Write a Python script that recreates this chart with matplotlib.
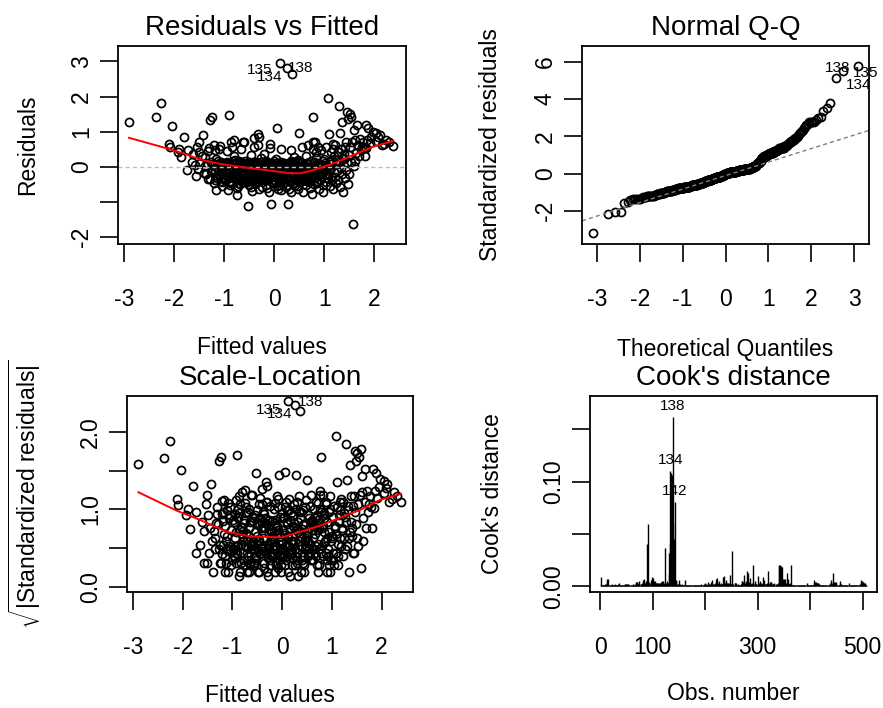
"""Diagnostic plots of a linear model (R plot.lm style), 2 x 2 panels."""
import statistics

import numpy as np
import matplotlib
matplotlib.use('Agg')
import matplotlib.pyplot as plt

plt.rcParams['font.family'] = ['Liberation Sans', 'DejaVu Sans']
plt.rcParams['mathtext.fontset'] = 'custom'
plt.rcParams['mathtext.rm'] = 'Liberation Sans'
plt.rcParams['mathtext.it'] = 'Liberation Sans:italic'
plt.rcParams['axes.unicode_minus'] = False

BASE = 16.5   # axis labels / tick labels
TITLE = 20
ID = 11       # point labels

# --- data -----------------------------------------------------------------
# fitted values and raw residuals, one line per band of fitted values
fitted = [
    -2.90, -2.37, -2.26, -2.04, -2.11, -2.09,
    -1.93, -1.86, -1.80, -1.73, -1.74, -1.65, -1.62, -1.90,
    -1.57, -1.54, -1.51, -1.50, -1.43, -1.41, -1.48, -1.45, -1.58, -1.52,
    -1.28, -1.24, -1.38, -1.35, -1.33, -1.31, -1.29, -1.27, -1.25, -1.22, -1.21, -1.36, -1.32, -1.26, -1.23, -1.39,
    -1.20, -1.16, -1.19, -1.18, -1.17, -1.15, -1.14, -1.13, -1.12, -1.11, -1.10, -1.09, -1.08, -1.07, -1.06, -1.05,
    -1.04, -1.03, -1.02, -1.01, -1.19, -1.14, -1.09, -1.04,
    -0.99, -0.98, -0.97, -0.96, -0.95, -0.94, -0.93, -0.92, -0.91, -0.90, -0.89, -0.88, -0.87, -0.86, -0.85, -0.84,
    -0.83, -0.82, -0.81, -0.97, -0.95, -0.93, -0.91, -0.89, -0.87, -0.85, -0.83, -0.81, -0.94, -0.88,
    -0.80, -0.79, -0.78, -0.77, -0.76, -0.75, -0.74, -0.73, -0.72, -0.71, -0.70, -0.69, -0.68, -0.67, -0.66, -0.65,
    -0.64, -0.63, -0.62, -0.61, -0.79, -0.77, -0.75, -0.73, -0.71, -0.69, -0.67, -0.65, -0.63, -0.61, -0.78, -0.74,
    -0.70, -0.66,
    -0.60, -0.59, -0.58, -0.57, -0.56, -0.55, -0.54, -0.53, -0.52, -0.51, -0.50, -0.49, -0.48, -0.47, -0.46, -0.45,
    -0.44, -0.43, -0.42, -0.41, -0.59, -0.57, -0.55, -0.53, -0.51, -0.49, -0.47, -0.45, -0.43, -0.41, -0.58, -0.54,
    -0.50, -0.46, -0.42, -0.56,
    -0.40, -0.39, -0.38, -0.37, -0.36, -0.35, -0.34, -0.33, -0.32, -0.31, -0.30, -0.29, -0.28, -0.27, -0.26, -0.25,
    -0.24, -0.23, -0.22, -0.21, -0.39, -0.37, -0.35, -0.33, -0.31, -0.29, -0.27, -0.25, -0.23, -0.21, -0.38, -0.34,
    -0.30, -0.26, -0.22, -0.36, -0.28, -0.32,
    -0.20, -0.19, -0.18, -0.17, -0.16, -0.15, -0.14, -0.13, -0.12, -0.11, -0.10, -0.09, -0.08, -0.07, -0.06, -0.05,
    -0.04, -0.03, -0.02, -0.01, -0.19, -0.17, -0.15, -0.13, -0.11, -0.09, -0.07, -0.05, -0.03, -0.01, -0.18, -0.14,
    -0.10, -0.06, -0.02, -0.16, -0.08, -0.12,
    0.00, 0.01, 0.02, 0.03, 0.04, 0.05, 0.06, 0.07, 0.08, 0.09, 0.10, 0.11, 0.12, 0.13, 0.14, 0.15,
    0.16, 0.17, 0.18, 0.19, 0.01, 0.03, 0.05, 0.07, 0.09, 0.11, 0.13, 0.15, 0.17, 0.19, 0.02, 0.06,
    0.10, 0.14, 0.18, 0.11,
    0.20, 0.21, 0.22, 0.23, 0.24, 0.25, 0.26, 0.27, 0.28, 0.29, 0.30, 0.31, 0.32, 0.33, 0.34, 0.35,
    0.36, 0.37, 0.38, 0.39, 0.21, 0.23, 0.25, 0.27, 0.29, 0.31, 0.33, 0.35, 0.37, 0.39, 0.22, 0.26,
    0.30, 0.34,
    0.40, 0.41, 0.42, 0.43, 0.44, 0.45, 0.46, 0.47, 0.48, 0.49, 0.50, 0.51, 0.52, 0.53, 0.54, 0.55,
    0.56, 0.57, 0.58, 0.59, 0.41, 0.43, 0.45, 0.47, 0.49, 0.51, 0.53, 0.55, 0.57, 0.59, 0.44, 0.52,
    0.60, 0.61, 0.62, 0.63, 0.64, 0.65, 0.66, 0.67, 0.68, 0.69, 0.70, 0.71, 0.72, 0.73, 0.74, 0.75,
    0.76, 0.77, 0.78, 0.79, 0.61, 0.63, 0.65, 0.67, 0.69, 0.71, 0.73, 0.75, 0.77, 0.79,
    0.80, 0.81, 0.82, 0.83, 0.84, 0.85, 0.86, 0.87, 0.88, 0.89, 0.90, 0.91, 0.92, 0.93, 0.94, 0.95,
    0.96, 0.97, 0.98, 0.99, 0.82, 0.85, 0.88, 0.91, 0.94, 0.97, 0.84, 0.90,
    1.00, 1.01, 1.02, 1.03, 1.04, 1.05, 1.06, 1.07, 1.08, 1.09, 1.10, 1.11, 1.12, 1.13, 1.14, 1.15,
    1.16, 1.17, 1.18, 1.19, 1.03, 1.08, 1.13, 1.17,
    1.20, 1.21, 1.22, 1.23, 1.24, 1.25, 1.26, 1.27, 1.28, 1.29, 1.30, 1.31, 1.32, 1.33, 1.34, 1.35,
    1.36, 1.37, 1.38, 1.39,
    1.40, 1.41, 1.42, 1.43, 1.44, 1.45, 1.46, 1.47, 1.48, 1.49, 1.50, 1.51, 1.52, 1.53, 1.54, 1.56,
    1.58, 1.59,
    1.61, 1.63, 1.60, 1.67, 1.69, 1.71, 1.73, 1.75, 1.77, 1.79, 1.62, 1.66,
    1.83, 1.88, 1.97, 1.84, 1.91, 1.81, 1.94, 1.86,
    2.04, 2.11, 2.04, 2.15, 2.08,
    2.24, 2.38, 2.30, 2.20,
]
resid = [
    1.28, 1.42, 1.81, 1.16, 0.66, 0.57,
    0.44, 0.29, 0.86, 0.48, -0.10, 0.15, 0.36, 0.52,
    -0.27, 0.58, 0.72, 0.44, 0.91, -0.18, 0.10, 0.30, 0.05, -0.05,
    1.35, 1.43, 0.27, 0.12, -0.35, 0.55, -0.34, -0.12, 0.05, 0.09, -0.45, -0.20, 0.45, 0.15, -0.05, 0.02,
    0.63, -0.65, -0.37, -0.15, 0.24, 0.08, -0.32, 0.18, -0.05, 0.51, -0.22, 0.11, 0.02, -0.40, 0.14, -0.44,
    -0.12, 0.04, -0.28, 0.06, 0.48, -0.02, 0.60, -0.55,
    0.12, -0.38, -0.36, -0.08, 0.45, -0.20, -0.65, 0.05, 1.48, 0.10, -0.15, -0.42, -0.46, 0.01, 0.58, -0.28,
    0.16, -0.05, 0.31, -0.12, 0.07, -0.26, 0.09, -0.52, 0.70, -0.02, -0.31, -0.24, 0.14, -0.40,
    0.77, -0.18, 0.10, -0.35, -0.38, -0.80, 0.04, -0.25, -0.46, -0.10, 0.18, -0.48, 0.08, -0.30, 0.52, -0.04,
    0.05, -0.14, 0.72, -0.42, -0.27, -0.06, 0.14, -0.55, 0.02, 0.13, -0.22, -0.36, 0.12, -0.16, 0.21, -0.60,
    0.06, -0.02,
    0.72, -0.12, -0.37, -0.40, 0.05, -0.26, 0.07, -1.11, -0.06, 0.15, -0.34, 0.11, -0.18, 0.02, -0.58, -0.41,
    -0.09, 0.10, -0.30, 0.58, -0.15, 0.12, -0.44, 0.08, -0.22, -0.02, 0.34, -0.68, 0.13, -0.36, 0.18, -0.05,
    -0.50, -0.19, -0.13, 0.04,
    0.81, -0.20, 0.14, -0.45, 0.03, -0.30, -0.35, -0.10, 0.93, -0.62, 0.86, -0.16, 0.07, -0.38, 0.25, -0.04,
    0.06, -0.26, -0.08, -0.17, -0.48, 0.11, -0.14, 0.10, -0.34, 0.01, 0.13, -0.56, 0.09, -0.20, -0.31, -0.41,
    -0.02, 0.15, -0.28, 0.05, -0.12, 0.62,
    0.37, -0.22, 0.08, -0.52, 0.18, -0.35, -0.02, -0.33, -0.14, -0.70, 0.10, -0.28, 0.55, -0.06, -1.06, 0.09,
    -0.42, 0.02, -0.18, -0.13, -0.10, 0.14, -0.60, 0.05, -0.32, 0.03, -0.24, 0.12, -0.08, -0.46, 0.12, -0.38,
    -0.31, -0.16, 0.04, -0.26, 0.66, -0.04,
    0.16, -0.40, -0.08, 0.23, -0.25, -0.55, 1.12, -0.14, 0.06, -0.34, -0.36, 2.95, -0.20, 0.50, -0.66, -0.01,
    -0.30, 0.12, -0.46, 0.07, -0.12, -0.42, -0.04, -0.62, 0.08, -0.22, 0.09, -0.38, -0.10, 0.04, -0.28, 0.11,
    -0.50, 0.14, -0.18, 0.02,
    0.10, -0.44, -0.16, -0.35, -0.58, 0.04, 2.81, -0.28, -1.06, -0.10, 0.05, -0.36, 0.01, -0.70, 0.48, -0.22,
    2.63, -0.48, 0.14, -0.06, -0.32, -0.31, -0.12, -0.52, 0.06, -0.26, 0.18, -0.40, -0.02, 0.29, -0.18, -0.08,
    -0.62, 0.12,
    -0.20, -0.33, -0.50, 0.02, -0.34, 0.18, -0.12, -0.64, 0.20, -0.26, 0.98, -0.08, -0.44, 0.12, -0.30, 0.56,
    -0.16, -0.72, 0.06, -0.38, 0.05, -0.04, -0.54, 0.14, -0.22, 0.10, -0.40, -0.10, -0.36, -0.28, 0.08, -0.18,
    0.06, -0.36, -0.06, 0.32, -0.52, 0.10, -0.24, 0.62, -0.14, -0.44, -0.33, -0.02, -0.60, 0.16, -0.30, 0.04,
    -0.78, 0.52, 1.43, -0.10, -0.20, 0.12, -0.40, 0.08, -0.04, -0.38, -0.28, -0.12, 0.72, -0.48,
    0.14, -0.30, 0.72, -0.08, 0.26, -0.46, -0.17, -0.18, 0.58, -0.62, 0.06, -0.36, 0.08, -0.12, 0.48, -0.26,
    0.02, -0.52, 0.18, -0.06, -0.32, -0.40, 0.10, -0.20, 0.04, -0.70, 0.44, 0.02,
    0.22, -0.20, 0.10, -0.42, 0.56, 0.04, -0.30, -0.32, 1.95, -0.10, 0.94, -0.54, 0.16, -0.04, 0.44, -0.36,
    0.20, -0.62, 0.66, -0.14, 0.06, -0.24, 0.08, 0.50,
    0.30, -0.28, 0.62, 0.08, -0.46, 0.20, -0.12, 0.42, -0.36, 1.73, 0.14, 0.98, -0.56, 0.50, -0.02, -0.20,
    1.27, 0.26, -0.70, 0.36,
    0.22, -0.30, 0.56, -0.10, 0.70, 0.10, 1.57, -0.48, 1.36, 0.34, -0.20, 1.52, 0.58, 0.14, 1.43, 0.72,
    -1.62, 0.03,
    0.77, 0.40, 1.05, 0.62, 0.30, 0.79, 0.48, 0.58, 0.70, 0.55, 0.18, 1.18,
    1.19, 1.10, 1.00, 0.53, 0.67, 0.30, 0.85, 0.78,
    0.96, 0.91, 0.75, 0.62, 0.84,
    0.77, 0.61, 0.70, 0.66,
]
sigma = 0.513  # residual standard error of the model

# labels of the three most extreme observations
id_labels = ['135', '138', '134']
qq_labels = ['138', '135', '134']

# red smoother, Residuals vs Fitted
smooth1_x = [-2.90, -2.12, -1.80, -1.49, -1.09, -0.56, -0.16, 0.28, 0.51, 0.78, 1.18, 1.58, 1.98, 2.38]
smooth1_y = [0.83, 0.52, 0.38, 0.22, 0.09, -0.02, -0.09, -0.17, -0.18, -0.09, 0.10, 0.34, 0.58, 0.74]
# red smoother, Scale-Location
smooth3_x = [-2.89, -2.11, -1.64, -1.11, -0.64, 0.00, 0.36, 0.76, 1.16, 1.56, 1.96, 2.39]
smooth3_y = [1.22, 0.98, 0.86, 0.71, 0.65, 0.64, 0.71, 0.79, 0.89, 0.99, 1.12, 1.20]

# Cook's distance for obs. 1..507, in units of 0.001
cook_milli = [
    9, 2, 1, 1, 1, 1, 1, 1, 2, 1, 1, 2, 5, 7, 7, 2, 1, 1, 1, 1,
    1, 1, 2, 1, 1, 1, 1, 1, 2, 1, 1, 1, 1, 1, 2, 3, 1, 1, 1, 1,
    1, 1, 1, 1, 1, 1, 2, 2, 1, 2, 2, 1, 2, 2, 1, 1, 1, 1, 1, 1,
    1, 1, 2, 1, 1, 1, 2, 4, 3, 4, 4, 2, 2, 5, 2, 1, 2, 2, 3, 2,
    6, 2, 3, 7, 2, 3, 4, 5, 40, 3, 2, 60, 4, 3, 2, 3, 6, 4, 9, 8,
    3, 5, 4, 4, 5, 3, 2, 3, 3, 2, 3, 3, 2, 2, 3, 4, 5, 4, 5, 2,
    2, 3, 2, 37, 2, 3, 5, 2, 3, 3, 32, 12, 40, 110, 108, 106, 100, 162, 60, 45,
    30, 81, 6, 5, 6, 2, 1, 1, 2, 1, 6, 2, 1, 1, 1, 2, 1, 1, 1, 1,
    6, 1, 1, 1, 1, 1, 1, 1, 1, 1, 1, 1, 1, 1, 1, 1, 1, 1, 1, 1,
    1, 1, 1, 1, 1, 1, 1, 1, 1, 1, 1, 1, 2, 1, 1, 1, 2, 1, 3, 1,
    1, 2, 1, 1, 2, 4, 2, 1, 2, 1, 4, 3, 2, 6, 2, 1, 2, 3, 2, 7,
    2, 2, 8, 3, 2, 2, 5, 2, 1, 2, 3, 2, 2, 9, 4, 10, 3, 2, 4, 6,
    3, 2, 3, 2, 2, 3, 11, 3, 2, 2, 2, 34, 2, 1, 1, 3, 3, 2, 3, 1,
    1, 1, 2, 1, 1, 1, 1, 2, 2, 5, 5, 4, 2, 11, 3, 2, 3, 5, 15, 3,
    3, 13, 4, 2, 8, 3, 2, 2, 3, 2, 20, 3, 2, 2, 5, 2, 2, 1, 1, 2,
    10, 2, 3, 5, 2, 2, 3, 2, 2, 3, 9, 2, 6, 2, 2, 2, 3, 2, 15, 3,
    2, 2, 4, 3, 4, 4, 2, 1, 2, 2, 3, 2, 1, 1, 2, 2, 1, 2, 3, 20,
    19, 20, 18, 18, 19, 18, 3, 3, 7, 6, 7, 7, 2, 3, 3, 13, 3, 7, 2, 2,
    2, 3, 20, 2, 1, 1, 1, 1, 1, 1, 1, 1, 1, 1, 1, 1, 1, 1, 1, 1,
    1, 1, 1, 1, 1, 1, 1, 1, 1, 1, 1, 1, 3, 1, 1, 1, 1, 1, 1, 1,
    1, 1, 1, 1, 1, 1, 3, 6, 4, 3, 3, 4, 3, 3, 3, 2, 2, 1, 1, 1,
    1, 1, 1, 1, 1, 1, 1, 1, 1, 1, 1, 1, 1, 1, 1, 1, 2, 3, 6, 2,
    2, 3, 2, 13, 2, 4, 3, 4, 2, 4, 1, 1, 1, 1, 1, 2, 5, 2, 1, 1,
    1, 1, 1, 1, 1, 1, 1, 1, 1, 1, 1, 1, 3, 1, 1, 1, 1, 1, 1, 1,
    1, 1, 1, 1, 1, 1, 1, 1, 1, 1, 1, 1, 1, 1, 2, 6, 4, 5, 3, 4,
    4, 2, 3, 2, 3, 1, 1,
]
cook_ids = [138, 134, 142]

# --- derived quantities ------------------------------------------------------
fitted = np.array(fitted)
resid = np.array(resid)
std_res = resid / sigma
sqrt_abs = np.sqrt(np.abs(std_res))

n = len(std_res)
nd = statistics.NormalDist()
theo = np.array([nd.inv_cdf((i - 0.5) / n) for i in range(1, n + 1)])
order = np.argsort(std_res)
qq_y = std_res[order]
q25, q75 = np.quantile(std_res, [0.25, 0.75])
qq_slope = (q75 - q25) / (nd.inv_cdf(0.75) - nd.inv_cdf(0.25))
qq_int = q25 - qq_slope * nd.inv_cdf(0.25)

cook = np.array(cook_milli) / 1000.0
obs = np.arange(1, len(cook) + 1)

top3 = np.argsort(-np.abs(resid))[:3]

# --- figure -------------------------------------------------------------------
W, H = 883, 708
fig = plt.figure(figsize=(W / 100, H / 100), dpi=100)


def add_panel(left, top, right, bottom):
    ax = fig.add_axes([left / W, 1 - bottom / H, (right - left) / W, (bottom - top) / H])
    for s in ax.spines.values():
        s.set_linewidth(1.3)
    ax.tick_params(direction='out', length=13, width=1.2, labelsize=BASE, color='black')
    ax.tick_params(axis='x', pad=19)
    ax.tick_params(axis='y', pad=5)
    return ax


def set_ticks(ax, xt, xl, yt, yl):
    ax.set_xticks(xt)
    ax.set_xticklabels(xl)
    ax.set_yticks(yt)
    ax.set_yticklabels(yl, rotation=90, va='center')


def set_labels(ax, title, xlab, ylab, xlab_y, ylab_x):
    ax.set_title(title, fontsize=TITLE, pad=8)
    ax.set_xlabel(xlab, fontsize=BASE)
    ax.set_ylabel(ylab, fontsize=BASE)
    ax.xaxis.set_label_coords(0.5, xlab_y)
    ax.xaxis.label.set_va('center')
    ax.yaxis.set_label_coords(ylab_x, 0.5)
    ax.yaxis.label.set_va('center')


circ = dict(marker='o', linestyle='none', markersize=5.8, markerfacecolor='none',
            markeredgecolor='black', markeredgewidth=1.25)

# Residuals vs Fitted
ax1 = add_panel(118, 46, 406, 244)
ax1.plot(fitted, resid, **circ)
ax1.axhline(0, color='#bebebe', lw=1.0, linestyle=(0, (3, 2.2)))
ax1.plot(smooth1_x, smooth1_y, color='red', lw=1.4)
ax1.set_xlim(-3.12, 2.63)
ax1.set_ylim(-2.19, 3.44)
set_ticks(ax1, [-3, -2, -1, 0, 1, 2], ['-3', '-2', '-1', '0', '1', '2'],
          [-2, -1, 0, 1, 2, 3], ['-2', '', '0', '1', '2', '3'])
set_labels(ax1, 'Residuals vs Fitted', 'Fitted values', 'Residuals', -0.525, -0.3125)
offs1 = [(-7, -7, 'right'), (1, 0, 'left'), (-10, -3, 'right')]
for i, lab, (dx, dy, ha) in zip(top3, id_labels, offs1):
    ax1.annotate(lab, (fitted[i], resid[i]), xytext=(dx, dy), textcoords='offset pixels',
                 ha=ha, va='center', fontsize=ID, annotation_clip=False)

# Normal Q-Q
ax2 = add_panel(582, 46, 869, 244)
ax2.plot(theo, qq_y, **circ)
ax2.axline((0, qq_int), slope=qq_slope, color='#7f7f7f', lw=1.0, linestyle=(0, (3, 2.2)))
ax2.set_xlim(-3.35, 3.35)
ax2.set_ylim(-3.76, 6.84)
set_ticks(ax2, [-3, -2, -1, 0, 1, 2, 3], ['-3', '-2', '-1', '0', '1', '2', '3'],
          [-2, 0, 2, 4, 6], ['-2', '0', '2', '4', '6'])
set_labels(ax2, 'Normal Q-Q', 'Theoretical Quantiles', 'Standardized residuals', -0.535, -0.32)
offs2 = [(-7, -2, 'right'), (10, -2, 'left'), (10, -7, 'left')]
for k, (lab, (dx, dy, ha)) in enumerate(zip(qq_labels, offs2)):
    ax2.annotate(lab, (theo[-1 - k], qq_y[-1 - k]), xytext=(dx, dy), textcoords='offset pixels',
                 ha=ha, va='center', fontsize=ID, annotation_clip=False)

# Scale-Location
ax3 = add_panel(127, 396, 413, 592)
ax3.plot(fitted, sqrt_abs, **circ)
ax3.plot(smooth3_x, smooth3_y, color='red', lw=1.4)
ax3.set_xlim(-3.12, 2.63)
ax3.set_ylim(-0.065, 2.46)
set_ticks(ax3, [-3, -2, -1, 0, 1, 2], ['-3', '-2', '-1', '0', '1', '2'],
          [0, 0.5, 1.0, 1.5, 2.0], ['0.0', '', '1.0', '', '2.0'])
set_labels(ax3, 'Scale-Location', 'Fitted values',
           r'$\sqrt{|\mathrm{Standardized\ residuals}|}$', -0.526, -0.357)
offs3 = [(-6, -9, 'right'), (3, 3, 'left'), (-8, -3, 'right')]
for i, lab, (dx, dy, ha) in zip(top3, id_labels, offs3):
    ax3.annotate(lab, (fitted[i], sqrt_abs[i]), xytext=(dx, dy), textcoords='offset pixels',
                 ha=ha, va='center', fontsize=ID, annotation_clip=False)

# Cook's distance
ax4 = add_panel(590, 396, 877, 592)
ax4.vlines(obs, 0, cook, color='black', lw=1.0)
ax4.set_xlim(-19.2, 527.2)
ax4.set_ylim(-0.0055, 0.182)
set_ticks(ax4, [0, 100, 200, 300, 400, 500], ['0', '100', '', '300', '', '500'],
          [0, 0.05, 0.10, 0.15], ['0.00', '', '0.10', ''])
set_labels(ax4, "Cook's distance", 'Obs. number', "Cook's distance", -0.52, -0.341)
for k in cook_ids:
    ax4.annotate(str(k), (k, cook[k - 1]), xytext=(0, 4), textcoords='offset pixels',
                 ha='center', va='bottom', fontsize=ID)

fig.savefig('out.png', dpi=100)
